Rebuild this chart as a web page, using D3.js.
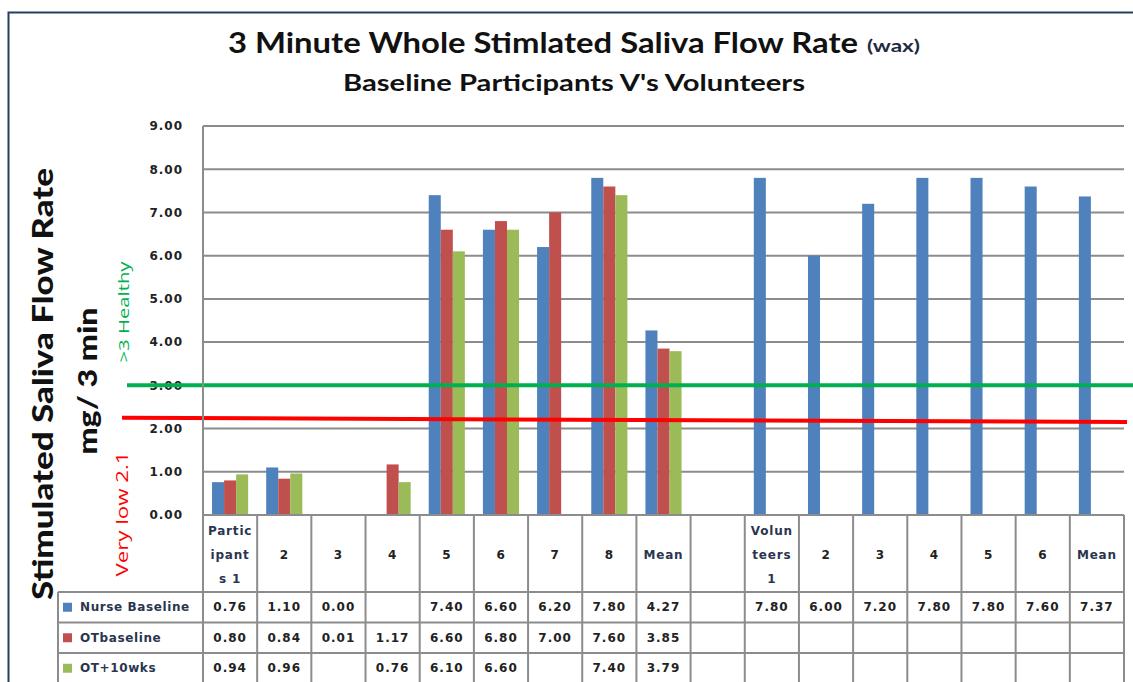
<!DOCTYPE html>
<html><head><meta charset="utf-8">
<script src="https://cdn.jsdelivr.net/npm/d3@7"></script>
<style>html,body{margin:0;padding:0;background:#fff;}svg{display:block;}</style>
</head><body>
<svg id="chart" width="1133" height="682"></svg>
<script>
// ---------- data ----------
const categories = ["Partic|ipant|s   1","2","3","4","5","6","7","8","Mean","","Volun|teers|1","2","3","4","5","6","Mean"];
const seriesNames = ["Nurse Baseline","OTbaseline","OT+10wks"];
const nurseBaseline = [0.76,1.10,0.00,null,7.40,6.60,6.20,7.80,4.27,null,7.80,6.00,7.20,7.80,7.80,7.60,7.37];
const otBaseline   = [0.80,0.84,0.01,1.17,6.60,6.80,7.00,7.60,3.85,null,null,null,null,null,null,null,null];
const ot10wks      = [0.94,0.96,null,0.76,6.10,6.60,null,7.40,3.79,null,null,null,null,null,null,null,null];
const seriesColors = ["#4f81bd","#c0504d","#9bbb59"];
const yTicks = [0,1,2,3,4,5,6,7,8,9];
const healthyLevel = [3.0, 3.0];   // start / end of drawn line
const veryLowLevel = [2.25, 2.15]; // start / end of drawn line (hand drawn, slightly sloped)

const seriesData = [nurseBaseline, otBaseline, ot10wks];

// ---------- layout ----------
const svg = d3.select("#chart");
const plotL = 203, plotR = 1124, plotT = 126, plotB = 515;
const rowTops = [592, 622.5, 653, 683.5];
const legendL = 58;
const gridColor = "#8c8c8c";

const y = d3.scaleLinear().domain([0,9]).range([plotB, plotT]);
const x = d3.scaleBand().domain(d3.range(categories.length)).range([plotL, plotR]);
const xs = d3.scaleBand().domain(d3.range(seriesNames.length)).range([0, x.bandwidth()]).paddingInner(0).paddingOuter(0.75);

// frame
svg.append("path").attr("d", `M8.5,682 L8.5,12.5 L1133,12.5`).attr("fill","none").attr("stroke","#243f60").attr("stroke-width",2);

// titles
svg.append("text").attr("x",228).attr("y",53).attr("font-family","Lato").attr("font-weight","bold")
  .attr("font-size",29).attr("textLength",630).attr("lengthAdjust","spacingAndGlyphs").attr("fill","#111")
  .text("3 Minute Whole Stimlated Saliva Flow Rate");
svg.append("text").attr("x",867).attr("y",52).attr("font-family","Lato").attr("font-weight","bold")
  .attr("font-size",17).attr("textLength",53).attr("lengthAdjust","spacingAndGlyphs").attr("fill","#1f2a44")
  .text("(wax)");
svg.append("text").attr("x",343).attr("y",91).attr("font-family","Lato").attr("font-weight","bold")
  .attr("font-size",23).attr("textLength",462).attr("lengthAdjust","spacingAndGlyphs").attr("fill","#111")
  .text("Baseline  Participants V's Volunteers");

// gridlines
svg.append("g").selectAll("line").data(yTicks).join("line")
  .attr("x1",plotL).attr("x2",plotR).attr("y1",d=>y(d)).attr("y2",d=>y(d))
  .attr("stroke",gridColor).attr("stroke-width",2);

// y axis
const yAxis = svg.append("g").attr("transform",`translate(${plotL},0)`)
  .call(d3.axisLeft(y).tickValues(yTicks).tickFormat(d3.format(".2f")).tickSize(0).tickPadding(20));
yAxis.select(".domain").remove();
yAxis.selectAll("text").attr("font-family","DejaVu Sans").attr("font-weight","bold").attr("font-size",12)
  .attr("letter-spacing",1).attr("fill","#222");

// bars
seriesData.forEach((vals, s) => {
  svg.append("g").selectAll("rect").data(vals.map((v,i)=>({v,i})).filter(d=>d.v!==null)).join("rect")
    .attr("x", d => x(d.i) + xs(s))
    .attr("width", xs.bandwidth())
    .attr("y", d => y(d.v))
    .attr("height", d => y(0) - y(d.v))
    .attr("fill", seriesColors[s]);
});

// threshold lines
svg.append("line").attr("x1",127).attr("x2",1133).attr("y1",y(healthyLevel[0])).attr("y2",y(healthyLevel[1]))
  .attr("stroke","#00b050").attr("stroke-width",4);
svg.append("line").attr("x1",122).attr("x2",1127).attr("y1",y(veryLowLevel[0])).attr("y2",y(veryLowLevel[1]))
  .attr("stroke","#ff0000").attr("stroke-width",4);

// y axis titles
svg.append("text").attr("transform","translate(53,384) rotate(-90)").attr("text-anchor","middle")
  .attr("font-family","Lato").attr("font-weight","900").attr("font-size",28)
  .attr("textLength",432).attr("lengthAdjust","spacingAndGlyphs").attr("fill","#111")
  .text("Stimulated   Saliva Flow  Rate");
svg.append("text").attr("transform","translate(97,381) rotate(-90)").attr("text-anchor","middle")
  .attr("font-family","Lato").attr("font-weight","900").attr("font-size",26)
  .attr("textLength",147).attr("lengthAdjust","spacingAndGlyphs").attr("fill","#111")
  .text("mg/ 3 min");
svg.append("text").attr("transform","translate(129,312) rotate(-90)").attr("text-anchor","middle")
  .attr("font-family","Open Sans").attr("font-size",15)
  .attr("textLength",101).attr("lengthAdjust","spacingAndGlyphs").attr("fill","#00b050")
  .text(">3  Healthy");
svg.append("text").attr("transform","translate(128,514) rotate(-90)").attr("text-anchor","middle")
  .attr("font-family","Open Sans").attr("font-size",16)
  .attr("textLength",125).attr("lengthAdjust","spacingAndGlyphs").attr("fill","#ff0000")
  .text("Very low  2.1");

// ---------- data table ----------
const tbl = svg.append("g");
const tableBottom = 690;
tbl.append("line").attr("x1",plotL).attr("x2",plotR).attr("y1",y(0)).attr("y2",y(0)).attr("stroke",gridColor).attr("stroke-width",2);
const colEdges = d3.range(categories.length).map(i=>x(i)).concat([plotR]);
tbl.selectAll("line.v").data(colEdges).join("line").attr("class","v")
  .attr("x1",d=>d).attr("x2",d=>d).attr("y1",(d,i)=> i===0 ? plotT : y(0)).attr("y2",tableBottom)
  .attr("stroke",gridColor).attr("stroke-width",2);
tbl.append("line").attr("x1",legendL).attr("x2",legendL).attr("y1",rowTops[0]).attr("y2",tableBottom)
  .attr("stroke",gridColor).attr("stroke-width",2);
tbl.selectAll("line.h").data(rowTops).join("line").attr("class","h")
  .attr("x1",legendL).attr("x2",plotR).attr("y1",d=>d).attr("y2",d=>d)
  .attr("stroke",gridColor).attr("stroke-width",2);

// header labels
categories.forEach((c,i)=>{
  const lines = c.split("|");
  const cx = x(i) + x.bandwidth()/2;
  const mid = (y(0)+rowTops[0])/2 + 1;
  lines.forEach((ln,k)=>{
    tbl.append("text").attr("x",cx).attr("y", mid + (k-(lines.length-1)/2)*24).attr("dy","0.35em")
      .attr("text-anchor","middle").attr("font-family","DejaVu Sans").attr("font-weight","bold")
      .attr("font-size",12).attr("letter-spacing",0.8).attr("fill", lines.length>1||c==="Mean" ? "#2a3550" : "#222")
      .text(ln);
  });
});

// legend + values
const fmt = d3.format(".2f");
seriesData.forEach((vals,s)=>{
  const cy = (rowTops[s]+rowTops[s+1])/2;
  tbl.append("rect").attr("x",63).attr("y",cy-4.5).attr("width",9).attr("height",9).attr("fill",seriesColors[s]);
  tbl.append("text").attr("x",80).attr("y",cy).attr("dy","0.35em").attr("font-family","DejaVu Sans")
    .attr("font-weight","bold").attr("font-size",12).attr("letter-spacing",0.6).attr("fill","#2a3550").text(seriesNames[s]);
  vals.forEach((v,i)=>{
    if(v===null) return;
    tbl.append("text").attr("x",x(i)+x.bandwidth()/2).attr("y",cy).attr("dy","0.35em").attr("text-anchor","middle")
      .attr("font-family","DejaVu Sans").attr("font-weight","bold").attr("font-size",12).attr("letter-spacing",1)
      .attr("fill","#222").text(fmt(v));
  });
});
</script>
</body></html>
